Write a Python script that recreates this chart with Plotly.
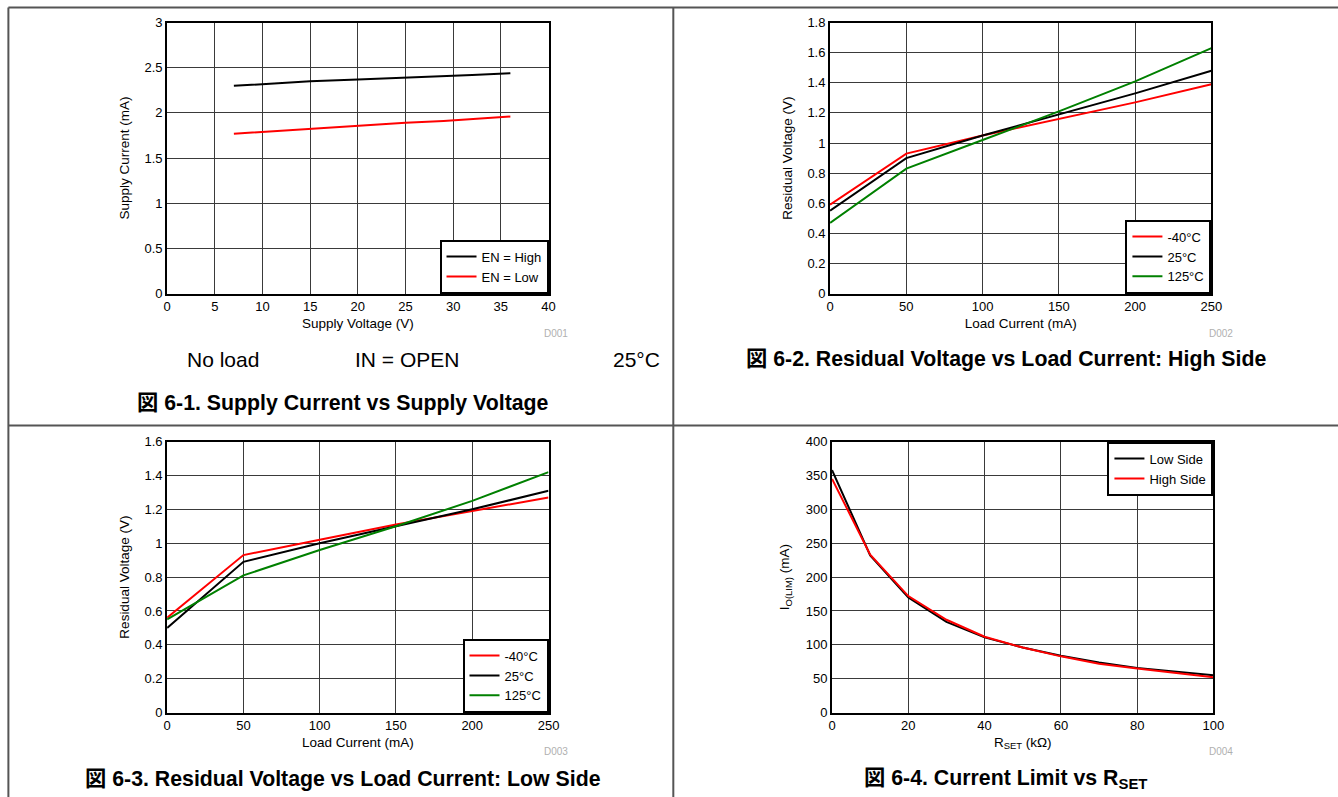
import plotly.graph_objects as go

W, H = 1338, 797

# ---------------- data ----------------
# Fig 6-1
vs = [7, 10, 15, 20, 25, 29, 32, 36]
icc_en_high = [2.30, 2.32, 2.35, 2.37, 2.39, 2.40, 2.42, 2.44]
icc_en_low = [1.77, 1.79, 1.83, 1.86, 1.89, 1.91, 1.93, 1.96]

# Fig 6-2 (high side)
iload = [0, 50, 100, 150, 200, 250]
hs_m40 = [0.59, 0.93, 1.05, 1.16, 1.27, 1.39]
hs_25 = [0.55, 0.90, 1.05, 1.19, 1.33, 1.48]
hs_125 = [0.47, 0.83, 1.02, 1.21, 1.41, 1.63]

# Fig 6-3 (low side)
ls_m40 = [0.56, 0.93, 1.02, 1.11, 1.19, 1.27]
ls_25 = [0.50, 0.89, 1.00, 1.10, 1.20, 1.31]
ls_125 = [0.55, 0.81, 0.96, 1.10, 1.25, 1.42]

# Fig 6-4
rset = [0, 10, 20, 30, 40, 50, 60, 70, 80, 90, 100]
ilim_low = [358, 232, 170, 134, 111, 96, 84, 74, 66, 60, 55]
ilim_high = [345, 233, 172, 137, 112, 96, 83, 72, 65, 58, 52]

FONT = "Liberation Sans, Arial, Noto Sans CJK JP, sans-serif"
RED, BLACK, GREEN = "#ff0000", "#000000", "#008000"

# plot area boxes in target-picture pixels (x0, x1, ytop, ybottom)
boxes = {
    1: (166, 548, 22, 293),
    2: (830, 1212, 22, 293),
    3: (166, 548, 441, 712),
    4: (832, 1214, 441, 712),
}

# compensation for the capture's small scale/offset
SX, OX = 0.9904, 2.6
SY, OY = 0.9812, 6.4


def px(x):
    return ((x - OX) / SX) / W


def py(y):
    return 1 - ((y - OY) / SY) / H


fig = go.Figure()


def add(xs, ys, name, color, n):
    fig.add_trace(go.Scatter(
        x=xs, y=ys, mode="lines", name=name,
        line=dict(color=color, width=2),
        xaxis=f"x{n}" if n > 1 else "x", yaxis=f"y{n}" if n > 1 else "y",
        legend=f"legend{n}" if n > 1 else "legend",
    ))


add(vs, icc_en_high, "EN = High", BLACK, 1)
add(vs, icc_en_low, "EN = Low", RED, 1)
add(iload, hs_m40, "-40°C", RED, 2)
add(iload, hs_25, "25°C", BLACK, 2)
add(iload, hs_125, "125°C", GREEN, 2)
add(iload, ls_m40, "-40°C", RED, 3)
add(iload, ls_25, "25°C", BLACK, 3)
add(iload, ls_125, "125°C", GREEN, 3)
add(rset, ilim_low, "Low Side", BLACK, 4)
add(rset, ilim_high, "High Side", RED, 4)

axis_specs = {
    1: dict(xr=[0, 40], xd=5, yr=[0, 3], yd=0.5, xt="Supply Voltage (V)", yt="Supply Current (mA)"),
    2: dict(xr=[0, 250], xd=50, yr=[0, 1.8], yd=0.2, xt="Load Current (mA)", yt="Residual Voltage (V)"),
    3: dict(xr=[0, 250], xd=50, yr=[0, 1.6], yd=0.2, xt="Load Current (mA)", yt="Residual Voltage (V)"),
    4: dict(xr=[0, 100], xd=20, yr=[0, 400], yd=50, xt="R<sub>SET</sub> (kΩ)", yt="I<sub>O(LIM)</sub> (mA)"),
}

layout = dict(
    width=W, height=H, margin=dict(l=0, r=0, t=0, b=0),
    paper_bgcolor="white", plot_bgcolor="white",
    font=dict(family=FONT, size=13, color="#000"),
    showlegend=True,
)

for n, s in axis_specs.items():
    x0, x1, yt, yb = boxes[n]
    xk = "xaxis" if n == 1 else f"xaxis{n}"
    yk = "yaxis" if n == 1 else f"yaxis{n}"
    common = dict(showline=True, linecolor="black", linewidth=2, mirror=True,
                  showgrid=True, gridcolor="#3a3a3a", gridwidth=1,
                  ticks="", zeroline=False, fixedrange=True,
                  tickfont=dict(family=FONT, size=13, color="#000"))
    layout[xk] = dict(common, domain=[px(x0), px(x1)], range=s["xr"], dtick=s["xd"], tick0=0,
                      anchor="y" if n == 1 else f"y{n}",
                      title=dict(text=s["xt"], font=dict(family=FONT, size=13.5), standoff=5))
    layout[yk] = dict(common, domain=[py(yb), py(yt)], range=s["yr"], dtick=s["yd"], tick0=0,
                      anchor="x" if n == 1 else f"x{n}",
                      title=dict(text=s["yt"], font=dict(family=FONT, size=13.5),
                                 standoff=13 if n == 4 else 12))

# legends
leg_common = dict(bgcolor="white", bordercolor="black", borderwidth=2,
                  font=dict(family=FONT, size=13, color="#000"),
                  itemwidth=30, tracegroupgap=0, xref="paper", yref="paper")
layout["legend"] = dict(leg_common, x=px(548), y=py(293), xanchor="right", yanchor="bottom")
layout["legend2"] = dict(leg_common, x=px(1212), y=py(293), xanchor="right", yanchor="bottom")
layout["legend3"] = dict(leg_common, x=px(548), y=py(712), xanchor="right", yanchor="bottom")
layout["legend4"] = dict(leg_common, x=px(1214), y=py(441), xanchor="right", yanchor="top")

fig.update_layout(**layout)

# panel border lines
line_style = dict(color="#555555", width=2)
for (a, b, c, d) in [(7, 7, 1360, 7), (7, 7, 7, 820), (673, 7, 673, 820), (7, 425, 1360, 425)]:
    fig.add_shape(type="line", xref="paper", yref="paper",
                  x0=px(a), y0=py(b), x1=px(c), y1=py(d), line=line_style)

ann = []
# D00x codes
for txt, x, y in [("D001", 556, 333), ("D002", 1222, 333), ("D003", 556, 751), ("D004", 1222, 751)]:
    ann.append(dict(text=txt, x=px(x), y=py(y), xref="paper", yref="paper", showarrow=False,
                    xanchor="center", yanchor="middle",
                    font=dict(family=FONT, size=10, color="#b0b0b0")))
# condition line
for txt, x in [("No load", 222), ("IN = OPEN", 406), ("25°C", 636)]:
    ann.append(dict(text=txt, x=px(x), y=py(359), xref="paper", yref="paper", showarrow=False,
                    xanchor="center", yanchor="middle",
                    font=dict(family=FONT, size=21, color="#000")))
# figure titles
for txt, x, y in [
    ("<b>図 6-1. Supply Current vs Supply Voltage</b>", 342, 402),
    ("<b>図 6-2. Residual Voltage vs Load Current: High Side</b>", 1006, 358),
    ("<b>図 6-3. Residual Voltage vs Load Current: Low Side</b>", 342, 778),
    ("<b>図 6-4. Current Limit vs R<sub>SET</sub></b>", 1006, 778),
]:
    ann.append(dict(text=txt, x=px(x), y=py(y), xref="paper", yref="paper", showarrow=False,
                    xanchor="center", yanchor="middle",
                    font=dict(family=FONT, size=21.3, color="#000")))
fig.update_layout(annotations=ann)

fig.write_html("out.html", config={"displayModeBar": False},
               post_script="document.body.style.margin='0';document.body.style.overflow='hidden';")
